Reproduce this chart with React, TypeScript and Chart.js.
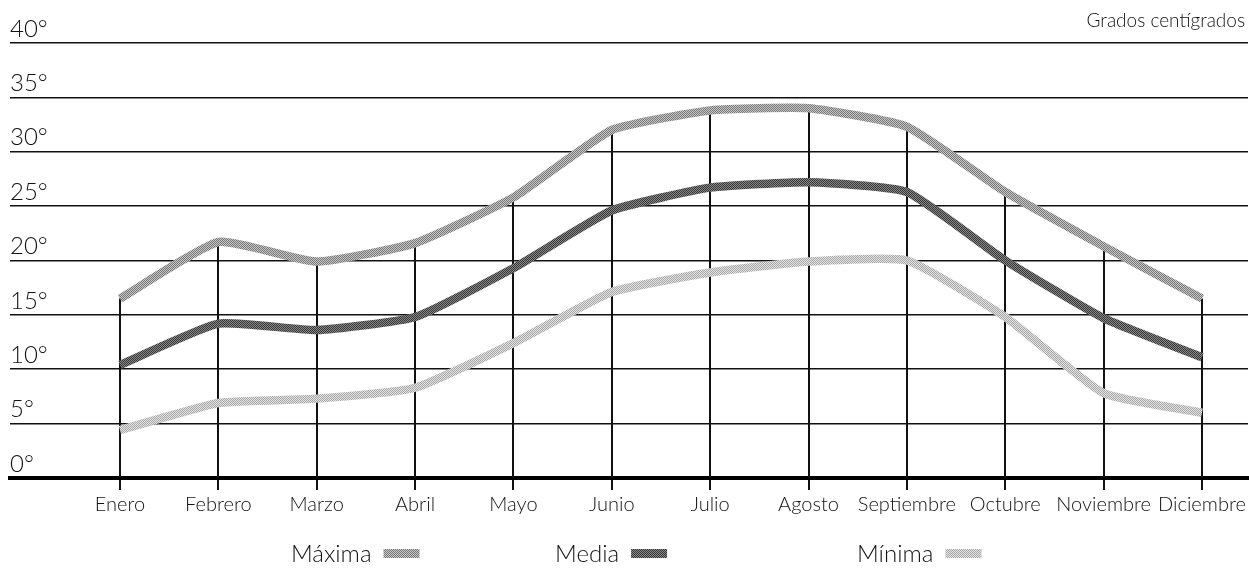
import React, { useEffect, useRef } from 'react';
import { Chart, registerables } from 'chart.js';

Chart.register(...registerables);

const MONTHS = ['Enero', 'Febrero', 'Marzo', 'Abril', 'Mayo', 'Junio', 'Julio', 'Agosto', 'Septiembre', 'Octubre', 'Noviembre', 'Diciembre'];
const MAXIMA = [16.5, 21.7, 19.9, 21.6, 25.8, 32.0, 33.8, 34.0, 32.3, 26.3, 21.3, 16.5];
const MEDIA = [10.4, 14.2, 13.6, 14.8, 19.3, 24.6, 26.7, 27.2, 26.3, 20.0, 14.7, 11.1];
const MINIMA = [4.4, 6.9, 7.3, 8.3, 12.4, 17.1, 18.9, 19.9, 20.0, 14.8, 7.8, 6.0];
const Y_TICKS = [0, 5, 10, 15, 20, 25, 30, 35, 40];
const SERIES_LABELS = ['Máxima', 'Media', 'Mínima'];
const UNIT_LABEL = 'Grados centígrados';

const LIGHT = "Lato, 'Open Sans', sans-serif";

function makePattern(dark: string, light: string) {
  const c = document.createElement('canvas');
  c.width = 2;
  c.height = 2;
  const g = c.getContext('2d')!;
  g.fillStyle = light;
  g.fillRect(0, 0, 2, 2);
  g.fillStyle = dark;
  g.fillRect(0, 0, 1, 1);
  g.fillRect(1, 1, 1, 1);
  return g.createPattern(c, 'repeat')!;
}

export default function App() {
  const ref = useRef<HTMLCanvasElement | null>(null);

  useEffect(() => {
    const canvas = ref.current;
    if (!canvas) return;
    const patMax = makePattern('#7a7a7a', '#c4c4c4');
    const patMed = makePattern('#3a3a3a', '#858585');
    const patMin = makePattern('#a8a8a8', '#e2e2e2');
    const patterns = [patMax, patMed, patMin];

    const decor = {
      id: 'decor',
      beforeDatasetsDraw(chart: any) {
        const { ctx, chartArea, scales } = chart;
        const x = scales.x;
        const y = scales.y;
        ctx.save();
        ctx.strokeStyle = '#111';
        ctx.lineWidth = 2;
        MAXIMA.forEach((v, i) => {
          const px = Math.round(x.getPixelForValue(i));
          ctx.beginPath();
          ctx.moveTo(px, y.getPixelForValue(v));
          ctx.lineTo(px, chartArea.bottom);
          ctx.stroke();
        });
        ctx.restore();
      },
      afterDraw(chart: any) {
        const { ctx } = chart;
        ctx.save();
        ctx.fillStyle = '#111';
        ctx.font = `300 19px ${LIGHT}`;
        ctx.textAlign = 'right';
        ctx.textBaseline = 'alphabetic';
        ctx.fillText(UNIT_LABEL, 1245, 27);

        const starts = [291, 555, 857];
        ctx.font = `300 24px ${LIGHT}`;
        ctx.textAlign = 'left';
        ctx.textBaseline = 'middle';
        SERIES_LABELS.forEach((label, i) => {
          const w = ctx.measureText(label).width;
          ctx.fillStyle = '#111';
          ctx.fillText(label, starts[i], 554);
          ctx.fillStyle = patterns[i];
          ctx.fillRect(starts[i] + w + 12, 549, 36, 9);
        });
        ctx.restore();
      },
    };

    const chart = new Chart(canvas, {
      type: 'line',
      data: {
        datasets: [
          { label: SERIES_LABELS[0], data: MAXIMA.map((v, i) => ({ x: i, y: v })), borderColor: patMax },
          { label: SERIES_LABELS[1], data: MEDIA.map((v, i) => ({ x: i, y: v })), borderColor: patMed },
          { label: SERIES_LABELS[2], data: MINIMA.map((v, i) => ({ x: i, y: v })), borderColor: patMin },
        ].map((d) => ({
          ...d,
          borderWidth: 8.5,
          tension: 0.15,
          pointRadius: 0,
          borderCapStyle: 'butt' as const,
          borderJoinStyle: 'round' as const,
          fill: false,
        })),
      },
      options: {
        responsive: false,
        animation: false,
        devicePixelRatio: 1,
        layout: { padding: { left: 10, right: 1, top: 43, bottom: 0 } },
        plugins: { legend: { display: false }, tooltip: { enabled: false }, title: { display: false } },
        scales: {
          x: {
            type: 'linear',
            min: -1.118,
            max: 11.468,
            afterBuildTicks: (s: any) => {
              s.ticks = MONTHS.map((_, i) => ({ value: i }));
            },
            afterFit: (s: any) => {
              s.height = 93;
              s.paddingLeft = 0;
              s.paddingRight = 0;
            },
            grid: { drawOnChartArea: false, drawTicks: true, tickLength: 12, color: '#111', lineWidth: 2 },
            border: { display: true, color: '#000', width: 4 },
            ticks: {
              autoSkip: false,
              maxRotation: 0,
              padding: 3,
              color: '#111',
              font: { family: LIGHT, size: 20, weight: 300 as any },
              callback: (v: any) => MONTHS[v] ?? '',
            },
          },
          y: {
            min: 0,
            max: 40,
            afterBuildTicks: (s: any) => {
              s.ticks = Y_TICKS.map((v) => ({ value: v }));
            },
            afterFit: (s: any) => {
              s.width = 0;
              s.paddingTop = 0;
              s.paddingBottom = 0;
            },
            grid: {
              drawTicks: false,
              color: (c: any) => (c.tick && c.tick.value === 0 ? 'rgba(0,0,0,0)' : '#111'),
              lineWidth: 1.6,
            },
            border: { display: false },
            ticks: {
              mirror: true,
              padding: 0,
              labelOffset: -14,
              color: '#111',
              font: { family: LIGHT, size: 24, weight: 300 as any },
              callback: (v: any) => `${v}°`,
            },
          },
        },
      },
      plugins: [decor],
    });
    return () => chart.destroy();
  }, []);

  return (
    <div style={{ position: 'absolute', left: 0, top: 0, width: 1249, height: 571, background: '#fff' }}>
      <canvas ref={ref} width={1249} height={571} style={{ display: 'block' }} />
    </div>
  );
}
